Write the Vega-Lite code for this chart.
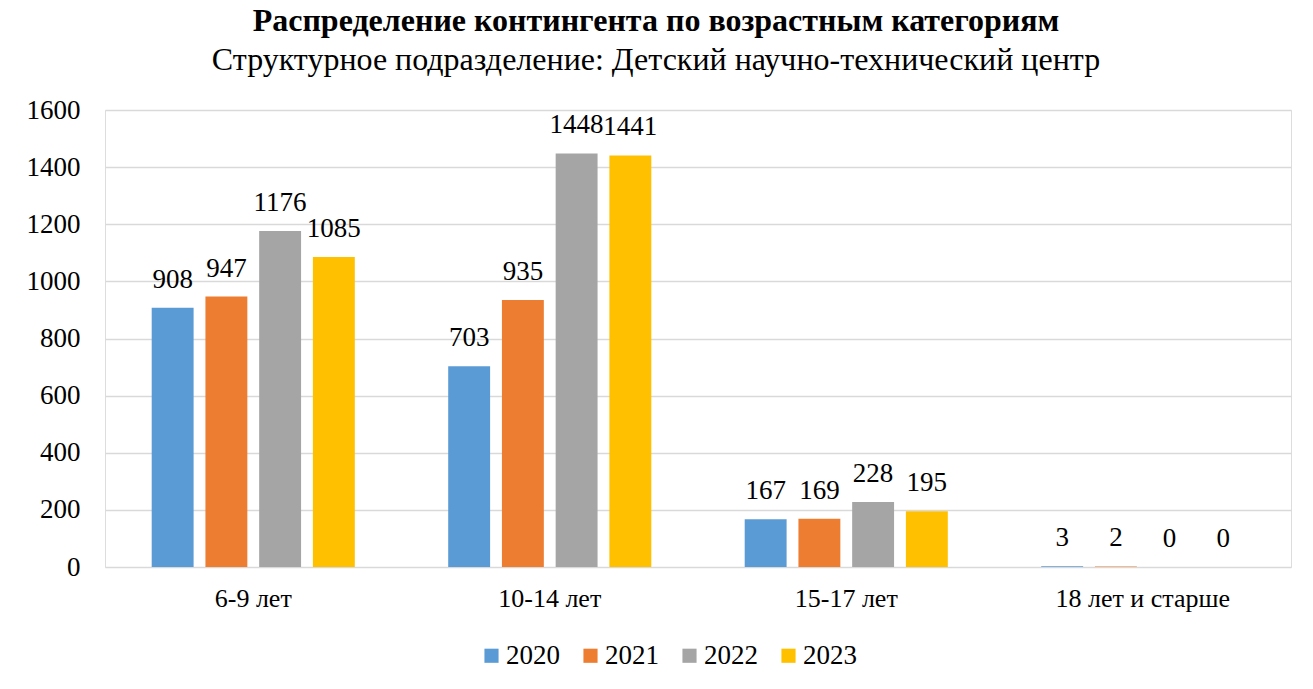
{
  "$schema": "https://vega.github.io/schema/vega-lite/v6.json",
  "width": 1186,
  "height": 457,
  "autosize": {"type": "none"},
  "padding": {"left": 105, "top": 110, "right": 22, "bottom": 122},
  "background": "white",
  "title": {
    "text": "Распределение контингента по возрастным категориям",
    "subtitle": "Структурное подразделение: Детский научно-технический центр",
    "font": "Liberation Serif",
    "fontSize": 32,
    "fontWeight": "bold",
    "color": "black",
    "subtitleFont": "Liberation Serif",
    "subtitleFontSize": 32,
    "subtitleColor": "black",
    "subtitlePadding": 7,
    "anchor": "middle",
    "dx": -42,
    "offset": 19
  },
  "data": {
    "values": [
      {"cat": "6-9 лет", "year": "2020", "v": 908},
      {"cat": "6-9 лет", "year": "2021", "v": 947},
      {"cat": "6-9 лет", "year": "2022", "v": 1176},
      {"cat": "6-9 лет", "year": "2023", "v": 1085},
      {"cat": "10-14 лет", "year": "2020", "v": 703},
      {"cat": "10-14 лет", "year": "2021", "v": 935},
      {"cat": "10-14 лет", "year": "2022", "v": 1448},
      {"cat": "10-14 лет", "year": "2023", "v": 1441},
      {"cat": "15-17 лет", "year": "2020", "v": 167},
      {"cat": "15-17 лет", "year": "2021", "v": 169},
      {"cat": "15-17 лет", "year": "2022", "v": 228},
      {"cat": "15-17 лет", "year": "2023", "v": 195},
      {"cat": "18 лет и старше", "year": "2020", "v": 3},
      {"cat": "18 лет и старше", "year": "2021", "v": 2},
      {"cat": "18 лет и старше", "year": "2022", "v": 0},
      {"cat": "18 лет и старше", "year": "2023", "v": 0}
    ]
  },
  "encoding": {
    "x": {
      "field": "cat", "type": "nominal",
      "sort": ["6-9 лет", "10-14 лет", "15-17 лет", "18 лет и старше"],
      "scale": {"paddingInner": 0.315, "paddingOuter": 0.1575},
      "axis": {
        "title": null, "labelAngle": 0, "ticks": false, "domain": false,
        "labelFont": "Liberation Serif", "labelFontSize": 26, "labelColor": "black",
        "labelPadding": 18
      }
    },
    "xOffset": {"field": "year", "type": "nominal", "scale": {"paddingInner": 0.22}},
    "y": {
      "field": "v", "type": "quantitative",
      "scale": {"domain": [0, 1600]},
      "axis": {
        "title": null, "values": [0,200,400,600,800,1000,1200,1400,1600],
        "format": "d", "labelOverlap": false,
        "ticks": false, "domain": false,
        "gridColor": "#d9d9d9", "gridWidth": 1.5,
        "labelFont": "Liberation Serif", "labelFontSize": 27, "labelColor": "black",
        "labelPadding": 25
      }
    }
  },
  "layer": [
    {
      "mark": {"type": "bar"},
      "encoding": {
        "color": {
          "field": "year", "type": "nominal",
          "scale": {"domain": ["2020","2021","2022","2023"], "range": ["#5B9BD5","#ED7D31","#A5A5A5","#FFC000"]},
          "legend": {
            "title": null, "orient": "none", "direction": "horizontal",
            "legendX": 373, "legendY": 532,
            "symbolType": "square", "symbolSize": 200, "symbolStrokeWidth": 0,
            "labelFont": "Liberation Serif", "labelFontSize": 27, "labelColor": "black",
            "columnPadding": 17, "labelOffset": 1
          }
        }
      }
    },
    {
      "mark": {"type": "text", "baseline": "alphabetic", "dy": -20, "font": "Liberation Serif", "fontSize": 27, "color": "black"},
      "encoding": {"text": {"field": "v", "type": "quantitative", "format": "d"}}
    }
  ]
}
